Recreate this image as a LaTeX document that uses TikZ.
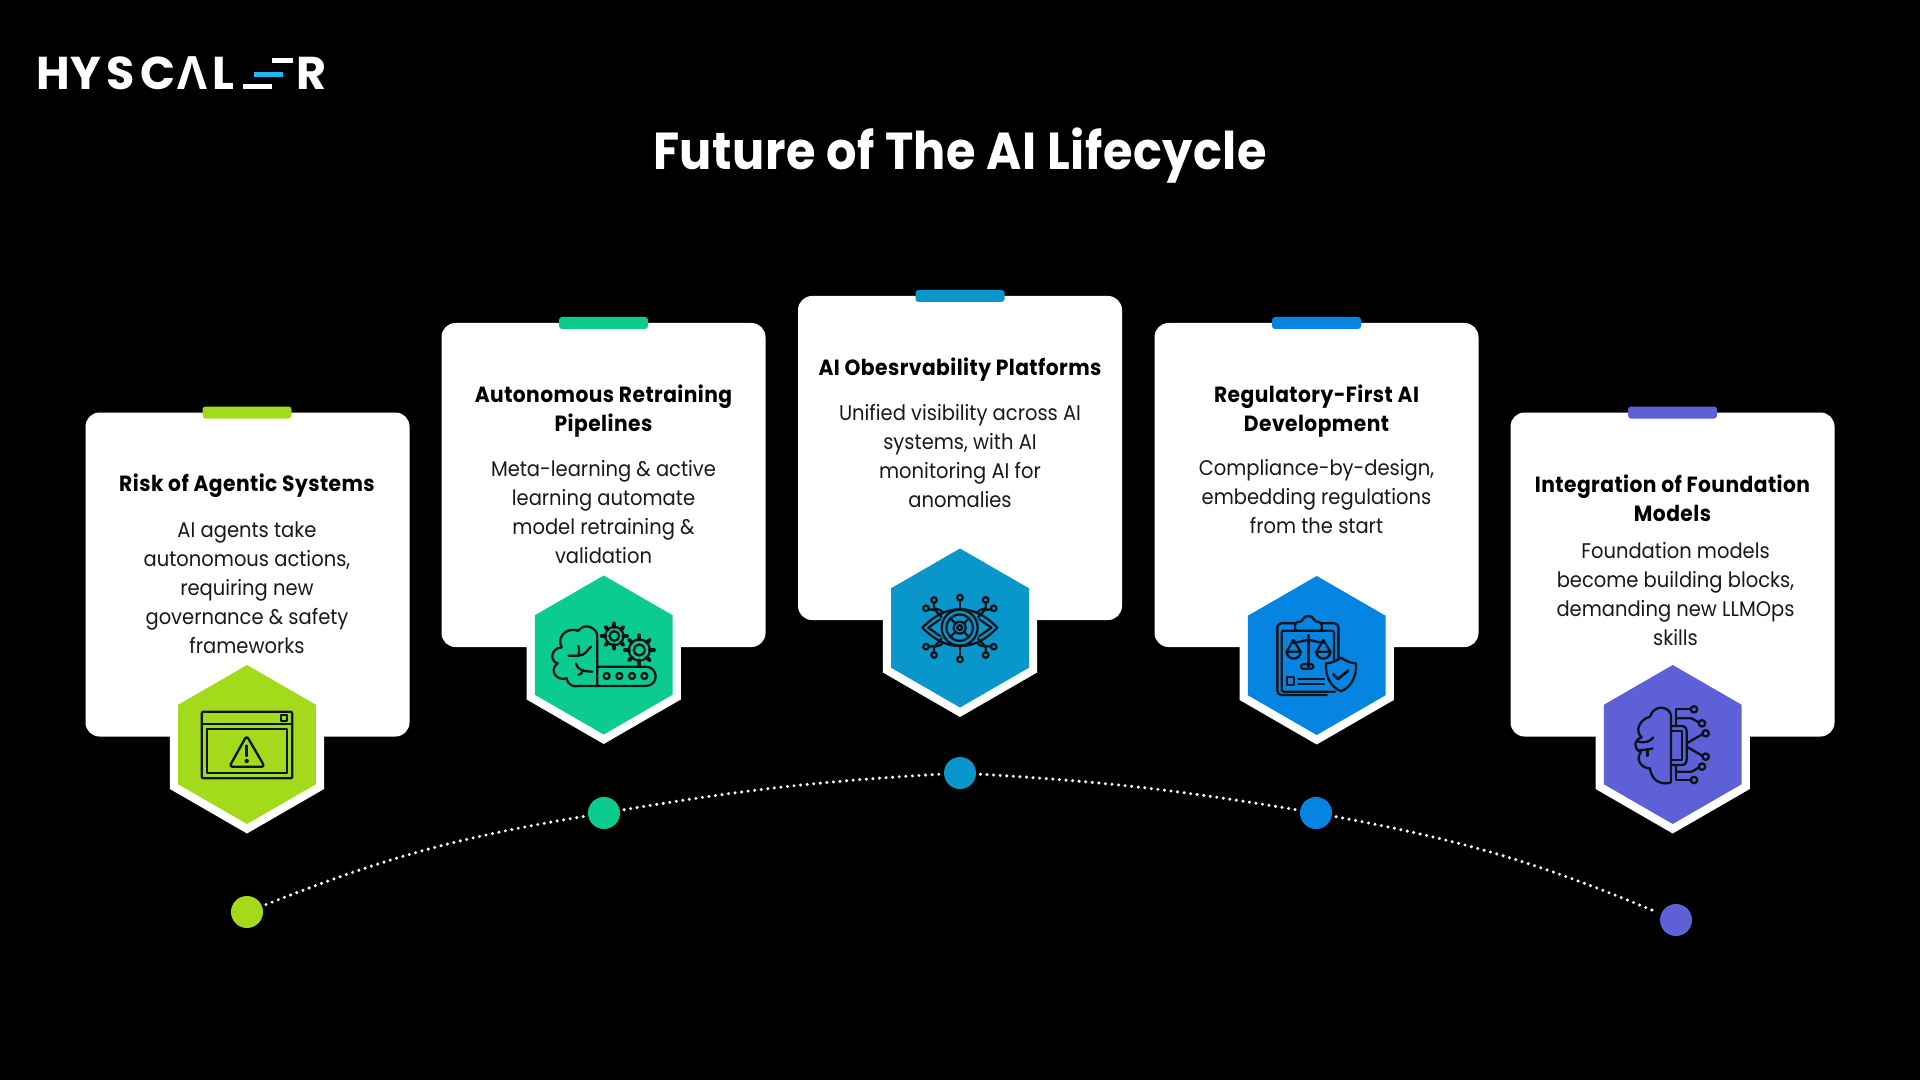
\documentclass[tikz,border=0pt]{standalone}
\usepackage{fontspec}
\setmainfont{Poppins}[FakeStretch=.92]
\newfontfamily\headfont{Poppins}[FakeStretch=.92,LetterSpace=1]
\newfontfamily\titlefont{Poppins}[FakeStretch=.92,LetterSpace=2]
\newfontfamily\logofont{Poppins}
\newfontfamily\lambdafont{Open Sans}
\usetikzlibrary{positioning, shapes.geometric, calc}
\definecolor{limecol}{HTML}{A4DA1C}
\definecolor{greencol}{HTML}{0CCB8F}
\definecolor{tealcol}{HTML}{0996CB}
\definecolor{bluecol}{HTML}{0584E2}
\definecolor{violetcol}{HTML}{5E60D8}
\definecolor{logoblue}{HTML}{1FB6F5}
\definecolor{inkcol}{HTML}{0B1418}
\newcommand{\gearicon}[3]{%
  \draw (#1,#2) circle ({#3*.72});
  \draw (#1,#2) circle ({#3*.38});
  \foreach \ang in {0,45,...,315}
    \draw[line width=1.9pt] ($(#1,#2)+(\ang:#3*.72)$) -- ($(#1,#2)+(\ang:#3)$);
}
\tikzset{
  card/.style={fill=white,rounded corners=7pt,minimum width=162pt,minimum height=162pt,inner sep=0pt},
  tab/.style={fill=#1,rounded corners=1.5pt,minimum width=44.5pt,minimum height=6pt,inner sep=0pt},
  halo/.style={regular polygon,regular polygon sides=6,shape border rotate=30,fill=white,minimum size=89pt,inner sep=0pt},
  hexa/.style={regular polygon,regular polygon sides=6,shape border rotate=30,fill=#1,minimum size=79.5pt,inner sep=0pt},
  dot/.style={circle,fill=#1,minimum size=16pt,inner sep=0pt},
  cardtitle/.style={font=\fontsize{11pt}{14.5pt}\selectfont\titlefont\bfseries,align=center,text=black,inner sep=0pt},
  cardbody/.style={font=\fontsize{10.6pt}{14.5pt}\selectfont,align=center,text=black!90,inner sep=0pt},
  iconbox/.style={x=.16667pt,y=-.16667pt,draw=inkcol,line width=1.15pt,line cap=round,line join=round},
  curve/.style={white,line width=1.7pt,line cap=round,dash pattern=on 0pt off 3.3pt,shorten >=2pt,shorten <=2pt},
  logotext/.style={font=\fontsize{23pt}{23pt}\selectfont\logofont\bfseries,text=white,inner sep=0pt,anchor=base west},
}
\begin{document}
\begin{tikzpicture}[x=.5pt,y=-.5pt]
\useasboundingbox (0,0) rectangle (1920,1080);
\fill[black] (0,0) rectangle (1920,1080);

% logo
\node[logotext] (logoH) at (36,90) {H};
\node[logotext] (logoY) at (70,90) {Y};
\node[logotext] (logoS) at (106,90) {S};
\node[logotext] (logoC) at (140,90) {C};
\node[logotext,font=\fontsize{23pt}{23pt}\selectfont\lambdafont\bfseries] (logoA) at (177,90) {Λ};
\node[logotext] (logoL) at (212,90) {L};
\fill[white] (272,58) rectangle (293,63);
\fill[logoblue] (254,72) rectangle (283,77);
\fill[white] (243,84) rectangle (272,89);
\node[logotext] (logoR) at (296,90) {R};

\node[font=\fontsize{26pt}{26pt}\selectfont\headfont\bfseries,text=white,inner sep=0pt] (heading) at (960,156) {Future of The AI Lifecycle};

% cards
\node[card] (card1) at (247.5,574.5) {};
\node[card] (card2) at (603.5,485) {};
\node[card] (card3) at (960,458) {};
\node[card] (card4) at (1316.5,485) {};
\node[card] (card5) at (1672.5,574.5) {};

\node[tab=limecol] (tab1) at (247,412.5) {};
\node[tab=greencol] (tab2) at (603.5,323) {};
\node[tab=tealcol] (tab3) at (960,296) {};
\node[tab=bluecol] (tab4) at (1316.5,323) {};
\node[tab=violetcol] (tab5) at (1672.5,412.5) {};

\node[cardtitle] (title1) at (247,486) {Risk of Agentic Systems};
\node[cardbody] (body1) at (247,588) {AI agents take\\autonomous actions,\\requiring new\\governance \& safety\\frameworks};
\node[cardtitle] (title2) at (603.5,411.5) {Autonomous Retraining\\Pipelines};
\node[cardbody] (body2) at (603.5,512.5) {Meta-learning \& active\\learning automate\\model retraining \&\\validation};
\node[cardtitle] (title3) at (960,369.5) {AI Obesrvability Platforms};
\node[cardbody] (body3) at (960,456) {Unified visibility across AI\\systems, with AI\\monitoring AI for\\anomalies};
\node[cardtitle] (title4) at (1316.5,411.5) {Regulatory-First AI\\Development};
\node[cardbody] (body4) at (1316.5,497) {Compliance-by-design,\\embedding regulations\\from the start};
\node[cardtitle] (title5) at (1672.5,498) {Integration of Foundation\\Models};
\node[cardbody] (body5) at (1675.5,594.5) {Foundation models\\become building blocks,\\demanding new LLMOps\\skills};

% hexagons
\node[halo] (halo1) at (247,744.5) {};
\node[hexa=limecol] (hex1) at (247,744.5) {};
\node[halo] (halo2) at (603.7,655) {};
\node[hexa=greencol] (hex2) at (603.7,655) {};
\node[halo] (halo3) at (960,628) {};
\node[hexa=tealcol] (hex3) at (960,628) {};
\node[halo] (halo4) at (1316.7,655.5) {};
\node[hexa=bluecol] (hex4) at (1316.7,655.5) {};
\node[halo] (halo5) at (1672.7,744.5) {};
\node[hexa=violetcol] (hex5) at (1672.7,744.5) {};

% window icon
\begin{scope}[shift={(150,650)},iconbox]
\draw[rounded corners=1pt] (155,185) rectangle (427,385);
\draw (155,222) -- (427,222);
\draw (393,196) rectangle (410,214);
\draw (172,238) rectangle (410,370);
\draw[rounded corners=1.5pt] (290,257) -- (344,350) -- (238,350) -- cycle;
\draw[line width=1.4pt] (290,287) -- (290,318);
\fill[inkcol] (290,333) circle (1.1pt);
\end{scope}

% brain and conveyor icon
\begin{scope}[shift={(510,560)},iconbox]
\draw (262,378) -- (262,228) .. controls (262,205) and (225,185) .. (205,212)
  .. controls (165,200) and (140,235) .. (155,262) .. controls (120,265) and (120,305) .. (143,310)
  .. controls (115,330) and (140,365) .. (170,355) .. controls (175,380) and (195,380) .. (205,378) -- (262,378);
\draw (175,287) -- (205,287) .. controls (225,287) and (232,270) .. (243,260);
\draw (205,258) .. controls (208,270) and (208,280) .. (205,287);
\draw (198,310) .. controls (200,330) and (225,335) .. (247,335);
\draw (205,345) .. controls (212,345) and (218,338) .. (218,330);
\draw (262,320) -- (408,320) arc (-90:90:29) -- (262,378);
\foreach \cx in {290,328,366,403}
  \draw (\cx,348) circle (1.5pt);
\gearicon{313}{228}{38}
\gearicon{388}{270}{44}
\end{scope}

% eye icon
\begin{scope}[shift={(860,530)},iconbox]
\draw (187,293) .. controls (225,255) and (260,238) .. (300,238) .. controls (340,238) and (375,255) .. (412,293)
  .. controls (375,331) and (340,348) .. (300,348) .. controls (260,348) and (225,331) .. (187,293) -- cycle;
\draw (205,293) -- (240,268); \draw (205,293) -- (240,318);
\draw (394,293) -- (358,268); \draw (394,293) -- (358,318);
\draw (299,293) circle (9pt);
\draw (299,293) circle (6.6pt);
\draw (299,293) circle (3pt);
\draw (299,293) circle (1.2pt);
\foreach \ang in {45,135,225,315}
  \draw ($(299,293)+(\ang:18)$) -- ($(299,293)+(\ang:40)$);
\draw (300,212) -- (300,238);
\draw (300,348) -- (300,378);
\draw (222,218) -- (222,235) -- (240,240) -- (250,248);
\draw (377,218) -- (377,235) -- (360,240) -- (350,248);
\draw (206,238) -- (225,240) -- (245,262);
\draw (393,238) -- (374,240) -- (354,262);
\draw (206,350) -- (225,348) -- (245,325);
\draw (393,350) -- (374,348) -- (354,325);
\draw (222,368) -- (222,350) -- (240,346) -- (250,338);
\draw (377,368) -- (377,350) -- (360,346) -- (350,338);
\foreach \px/\py in {300/203,300/388,222/210,377/210,198/235,401/235,198/350,401/350,222/375,377/375}
  \draw (\px,\py) circle (1.4pt);
\end{scope}

% clipboard icon
\begin{scope}[shift={(1220,560)},iconbox]
\draw[rounded corners=2pt] (320,405) -- (172,405) -- (172,190) -- (355,190) -- (355,300);
\draw[rounded corners=1pt] (345,395) -- (185,395) -- (185,212) -- (342,212) -- (342,305);
\draw[fill=bluecol,rounded corners=1pt] (225,212) -- (225,188) -- (248,183) .. controls (252,165) and (278,165) .. (282,183) -- (305,188) -- (305,212) -- cycle;
\draw (265,225) -- (265,320);
\draw (220,248) .. controls (240,248) and (250,240) .. (265,240) .. controls (280,240) and (290,248) .. (310,248);
\draw (220,240) -- (200,275) -- (242,275) -- cycle;
\draw (200,275) arc (180:360:3.5pt);
\draw (310,240) -- (289,275) -- (331,275) -- cycle;
\draw (289,275) arc (180:360:3.5pt);
\draw[rounded corners=1pt] (243,313) rectangle (280,326);
\draw (200,352) rectangle (222,375);
\draw (235,358) -- (312,358);
\draw (235,372) -- (312,372);
\draw[fill=bluecol] (363,293) .. controls (380,305) and (395,310) .. (408,310) .. controls (410,350) and (395,380) .. (363,394)
  .. controls (331,380) and (316,350) .. (318,310) .. controls (331,310) and (346,305) .. (363,293) -- cycle;
\draw[line width=1.4pt] (340,343) -- (353,357) -- (385,332);
\end{scope}

% circuit brain icon
\begin{scope}[shift={(1570,650)},iconbox]
\draw (303,397) -- (303,195) .. controls (295,165) and (250,165) .. (240,200)
  .. controls (205,210) and (195,245) .. (215,262) .. controls (190,270) and (190,300) .. (213,305)
  .. controls (195,330) and (215,355) .. (240,355) .. controls (245,400) and (285,405) .. (303,397);
\draw (205,275) .. controls (225,280) and (240,275) .. (250,262);
\draw (210,300) .. controls (225,300) and (240,298) .. (248,295);
\draw (232,297) -- (232,318);
\draw (303,228) -- (335,228) .. controls (345,228) and (350,235) .. (350,245) -- (350,328) .. controls (350,338) and (345,345) .. (335,345) -- (303,345);
\draw (303,242) -- (335,242) -- (335,330) -- (303,330);
\draw (318,228) -- (318,178) -- (361,178);
\draw (318,205) -- (365,205) -- (386,217);
\draw (350,280) -- (398,252);
\draw (350,290) -- (398,318);
\draw (318,345) -- (318,365) -- (365,365) -- (386,353);
\draw (318,365) -- (318,390) -- (361,390);
\foreach \px/\py in {372/178,396/220,407/250,407/320,396/350,372/390}
  \draw (\px,\py) circle (1.6pt);
\end{scope}

% timeline
\node[dot=limecol] (dot1) at (247,912) {};
\node[dot=greencol] (dot2) at (604,813) {};
\node[dot=tealcol] (dot3) at (960,773) {};
\node[dot=bluecol] (dot4) at (1316,813) {};
\node[dot=violetcol] (dot5) at (1676,920) {};

\draw[curve] (dot1) to[bend left=6] (dot2);
\draw[curve] (dot2) to[bend left=3] (dot3);
\draw[curve] (dot3) to[bend left=3] (dot4);
\draw[curve] (dot4) to[bend left=6] (dot5);
\end{tikzpicture}
\end{document}
